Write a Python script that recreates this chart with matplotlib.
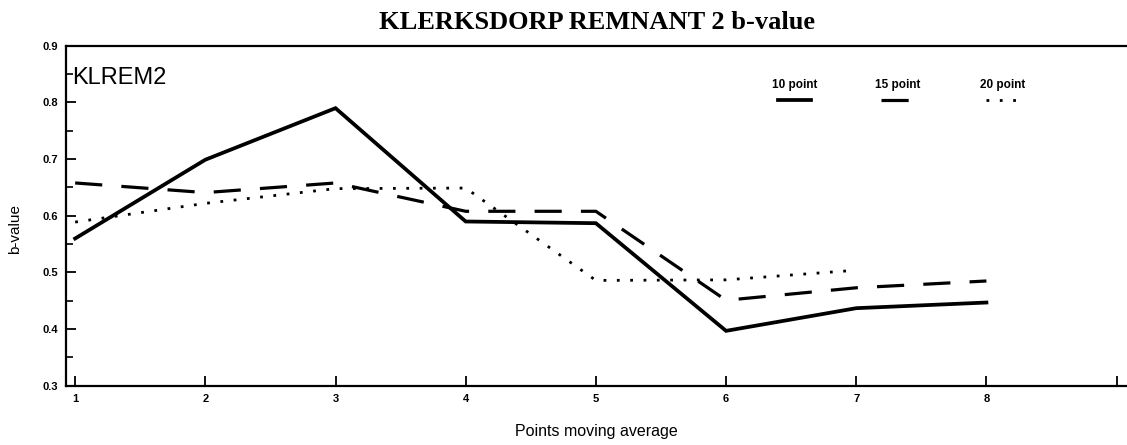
import matplotlib
matplotlib.use("Agg")
import matplotlib.pyplot as plt
from matplotlib.ticker import MultipleLocator, FormatStrFormatter

# Data
x_points = [1, 2, 3, 4, 5, 6, 7, 8]
b_10pt = [0.56, 0.699, 0.79, 0.59, 0.587, 0.397, 0.437, 0.447]
b_15pt = [0.658, 0.641, 0.658, 0.608, 0.608, 0.451, 0.473, 0.485]
x_20pt = [1, 2, 3, 4, 5, 6, 7]
b_20pt = [0.589, 0.622, 0.648, 0.649, 0.486, 0.487, 0.504]
x_ticks = [1, 2, 3, 4, 5, 6, 7, 8, 9]
x_labels = ["1", "2", "3", "4", "5", "6", "7", "8", ""]

plt.rcParams["font.family"] = ["Liberation Sans", "DejaVu Sans"]

fig = plt.figure(figsize=(11.27, 4.45), dpi=100)
ax = fig.add_axes([0.0586, 0.133, 0.9414, 0.764])

ax.plot(x_points, b_10pt, color="black", lw=2.7, solid_joinstyle="miter")
ax.plot(x_points, b_15pt, color="black", lw=2.3, linestyle=(0, (8.5, 6.0)))
ax.plot(x_20pt, b_20pt, color="black", lw=2.0, linestyle=(0, (1, 3.8)))

ax.set_xlim(0.93, 9.08)
ax.set_ylim(0.3, 0.9)
ax.set_xticks(x_ticks)
ax.set_xticklabels(x_labels)
ax.yaxis.set_major_locator(MultipleLocator(0.1))
ax.yaxis.set_minor_locator(MultipleLocator(0.05))
ax.yaxis.set_major_formatter(FormatStrFormatter("%.1f"))
ax.tick_params(axis="both", which="major", direction="in", length=7, width=1.3,
               labelsize=8, pad=6)
ax.tick_params(axis="y", which="minor", direction="in", length=5, width=1.2)
for lab in ax.get_xticklabels() + ax.get_yticklabels():
    lab.set_fontweight("bold")

ax.spines["right"].set_visible(False)
for s in ["left", "bottom", "top"]:
    ax.spines[s].set_linewidth(1.6)

ax.set_xlabel("Points moving average", fontsize=11.5, labelpad=14)
ax.set_ylabel("b-value", fontsize=11)
ax.yaxis.set_label_coords(-0.041, 0.46)
ax.set_title("KLERKSDORP REMNANT 2 b-value", family="Liberation Serif",
             fontweight="bold", fontsize=19, pad=12)

ax.text(0.006, 0.905, "KLREM2", transform=ax.transAxes, fontsize=17,
        ha="left", va="center")

# legend: label above a short sample of each line style
legend_items = [("10 point", 0.687, dict(lw=2.7, linestyle="-")),
                ("15 point", 0.784, dict(lw=2.3, linestyle=(0, (8.5, 6.0)))),
                ("20 point", 0.883, dict(lw=2.0, linestyle=(0, (1, 3.8))))]
for label, xc, style in legend_items:
    ax.text(xc, 0.885, label, transform=ax.transAxes, fontsize=8.5,
            fontweight="bold", ha="center", va="center")
    ax.plot([xc - 0.0155, xc + 0.0155], [0.84, 0.84], transform=ax.transAxes,
            color="black", clip_on=False, **style)

fig.savefig("out.png", dpi=100)
